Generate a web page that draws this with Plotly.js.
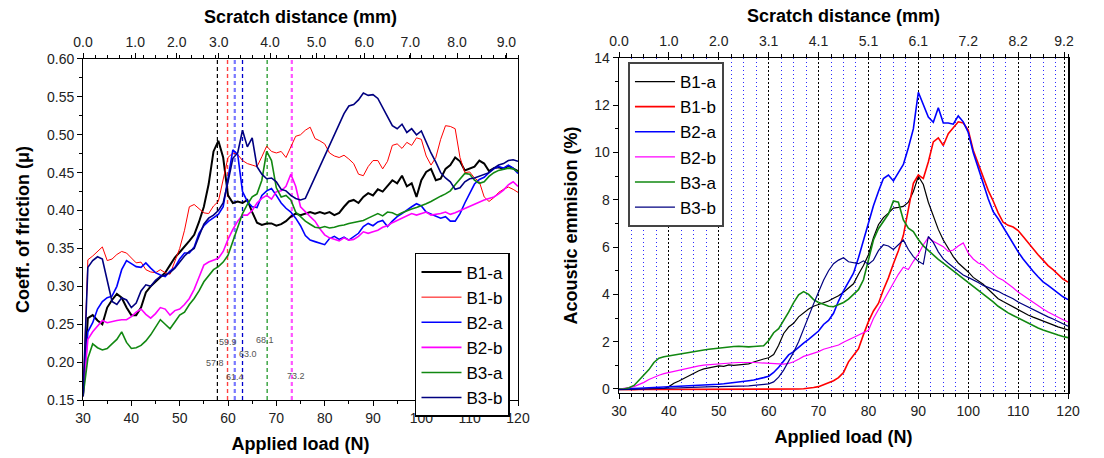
<!DOCTYPE html>
<html>
<head>
<meta charset="utf-8">
<script src="https://cdn.plot.ly/plotly-3.0.1.min.js"></script>
<style>html,body{margin:0;padding:0;background:#fff;}#chart{width:1104px;height:458px;}</style>
</head>
<body>
<div id="chart"></div>
<script>
// ---------- DATA ----------
const load = [30,31,32,33,34,35,36,37,38,39,40,41,42,43,44,45,46,47,48,49,50,51,52,53,54,55,56,57,58,59,60,61,62,63,64,65,66,67,68,69,70,71,72,73,74,75,76,77,78,79,80,81,82,83,84,85,86,87,88,89,90,91,92,93,94,95,96,97,98,99,100,101,102,103,104,105,106,107,108,109,110,111,112,113,114,115,116,117,118,119,120];
const seriesNames = ['B1-a','B1-b','B2-a','B2-b','B3-a','B3-b'];

// Coefficient of friction (left chart)
const fricB1a = [0.155,0.258,0.262,0.255,0.250,0.272,0.282,0.290,0.285,0.272,
 0.262,0.262,0.272,0.292,0.300,0.306,0.312,0.318,0.328,0.338,
 0.345,0.352,0.360,0.368,0.385,0.405,0.435,0.478,0.492,0.470,
 0.420,0.410,0.412,0.410,0.414,0.398,0.384,0.381,0.383,0.383,
 0.380,0.382,0.386,0.392,0.396,0.394,0.396,0.398,0.396,0.398,
 0.396,0.398,0.394,0.397,0.405,0.412,0.414,0.410,0.418,0.423,
 0.420,0.428,0.425,0.432,0.440,0.436,0.446,0.432,0.436,0.418,
 0.440,0.451,0.455,0.440,0.442,0.455,0.460,0.470,0.465,0.453,
 0.455,0.458,0.466,0.462,0.452,0.456,0.457,0.455,0.459,0.455,
 0.452];
const fricB1b = [0.155,0.335,0.340,0.346,0.352,0.334,0.336,0.342,0.346,0.344,
 0.337,0.331,0.332,0.322,0.319,0.318,0.322,0.318,0.316,0.334,
 0.350,0.374,0.405,0.408,0.402,0.397,0.396,0.406,0.412,0.440,
 0.470,0.476,0.474,0.466,0.462,0.460,0.458,0.471,0.485,0.478,
 0.476,0.478,0.470,0.484,0.498,0.500,0.506,0.510,0.495,0.492,
 0.488,0.476,0.472,0.470,0.473,0.468,0.462,0.448,0.446,0.458,
 0.466,0.466,0.455,0.465,0.486,0.488,0.482,0.490,0.486,0.496,
 0.494,0.472,0.460,0.470,0.494,0.512,0.511,0.508,0.470,0.450,
 0.451,0.443,0.438,0.418,0.412,0.417,0.424,0.428,0.431,0.428,
 0.424];
const fricB2a = [0.155,0.240,0.252,0.270,0.280,0.285,0.287,0.300,0.322,0.334,
 0.330,0.326,0.325,0.331,0.324,0.318,0.315,0.313,0.320,0.325,
 0.336,0.344,0.344,0.352,0.370,0.380,0.386,0.390,0.395,0.405,
 0.445,0.480,0.474,0.425,0.412,0.405,0.404,0.420,0.426,0.429,
 0.420,0.410,0.403,0.398,0.390,0.380,0.367,0.361,0.359,0.357,
 0.355,0.363,0.366,0.362,0.365,0.361,0.366,0.370,0.379,0.383,
 0.380,0.385,0.387,0.379,0.386,0.392,0.396,0.401,0.405,0.409,
 0.406,0.398,0.395,0.392,0.390,0.392,0.386,0.386,0.396,0.410,
 0.423,0.435,0.441,0.444,0.450,0.455,0.458,0.456,0.460,0.456,
 0.449];
const fricB2b = [0.155,0.230,0.240,0.248,0.255,0.252,0.254,0.255,0.256,0.256,
 0.260,0.266,0.270,0.263,0.258,0.264,0.272,0.270,0.262,0.268,
 0.270,0.276,0.284,0.296,0.312,0.328,0.332,0.334,0.337,0.346,
 0.362,0.375,0.386,0.394,0.394,0.400,0.410,0.416,0.420,0.415,
 0.425,0.426,0.432,0.448,0.432,0.405,0.398,0.392,0.386,0.376,
 0.368,0.364,0.362,0.360,0.364,0.361,0.362,0.366,0.372,0.370,
 0.372,0.374,0.378,0.380,0.384,0.387,0.390,0.393,0.396,0.394,
 0.396,0.398,0.394,0.395,0.396,0.398,0.395,0.397,0.400,0.403,
 0.405,0.408,0.412,0.414,0.416,0.418,0.422,0.427,0.434,0.438,
 0.432];
const fricB3a = [0.155,0.205,0.224,0.219,0.216,0.218,0.224,0.230,0.240,0.226,
 0.218,0.219,0.222,0.228,0.236,0.246,0.256,0.250,0.244,0.253,
 0.262,0.266,0.276,0.284,0.294,0.306,0.314,0.322,0.326,0.332,
 0.341,0.360,0.378,0.396,0.408,0.418,0.422,0.440,0.478,0.466,
 0.430,0.418,0.420,0.414,0.398,0.392,0.386,0.382,0.378,0.377,
 0.379,0.377,0.378,0.380,0.381,0.383,0.384,0.385,0.387,0.390,
 0.393,0.396,0.393,0.398,0.397,0.394,0.397,0.400,0.402,0.404,
 0.406,0.409,0.412,0.416,0.419,0.422,0.426,0.434,0.442,0.449,
 0.448,0.440,0.436,0.438,0.445,0.450,0.453,0.454,0.456,0.455,
 0.451];
const fricB3b = [0.155,0.325,0.334,0.339,0.336,0.310,0.280,0.276,0.285,0.282,
 0.272,0.278,0.294,0.302,0.300,0.308,0.313,0.315,0.318,0.324,
 0.332,0.340,0.346,0.350,0.366,0.382,0.390,0.394,0.400,0.410,
 0.438,0.469,0.476,0.506,0.484,0.496,0.458,0.448,0.442,0.443,
 0.438,0.428,0.426,0.420,0.416,0.414,0.416,0.430,0.445,0.458,
 0.472,0.485,0.500,0.514,0.528,0.538,0.540,0.546,0.555,0.552,
 0.553,0.548,0.535,0.524,0.512,0.508,0.514,0.503,0.508,0.500,
 0.505,0.490,0.476,0.464,0.450,0.443,0.438,0.428,0.430,0.438,
 0.442,0.443,0.445,0.448,0.450,0.456,0.460,0.462,0.466,0.467,
 0.465];

// Acoustic emission (right chart)
const aeB1a = [0.00,0.00,0.00,0.00,0.00,0.00,0.00,0.00,0.00,0.02,
 0.10,0.24,0.34,0.45,0.56,0.67,0.77,0.85,0.90,0.95,
 0.98,0.96,1.02,1.00,1.03,1.04,1.06,1.14,1.22,1.27,
 1.32,1.46,1.85,2.35,2.62,2.78,3.05,3.22,3.38,3.50,
 3.58,3.65,3.72,3.84,3.94,4.09,4.25,4.45,4.85,5.22,
 5.68,6.40,6.95,7.25,7.44,7.65,7.68,7.72,7.90,8.35,
 9.00,8.65,7.90,7.30,6.75,6.30,5.92,5.60,5.33,5.15,
 4.95,4.72,4.58,4.43,4.22,4.00,3.82,3.70,3.58,3.46,
 3.36,3.24,3.13,3.04,2.95,2.87,2.78,2.71,2.63,2.56,
 2.50];
const aeB1b = [-0.02,-0.03,-0.02,-0.03,-0.02,-0.02,-0.03,-0.02,-0.02,-0.03,
 -0.02,-0.02,-0.03,-0.02,-0.02,-0.02,-0.03,-0.02,-0.02,-0.02,
 -0.02,-0.03,-0.02,-0.02,-0.01,-0.02,-0.02,-0.01,-0.02,-0.01,
 -0.01,-0.01,0.00,-0.01,0.00,0.00,0.00,0.01,0.02,0.06,
 0.10,0.18,0.26,0.35,0.48,0.70,1.15,1.45,1.70,2.30,
 2.85,3.30,3.62,4.20,4.70,5.30,5.85,6.50,7.60,8.70,
 9.05,8.90,9.60,10.45,10.62,10.30,10.80,11.05,11.30,11.25,
 10.95,10.10,9.55,9.00,8.40,7.95,7.45,7.05,6.92,6.85,
 6.70,6.45,6.18,5.95,5.68,5.45,5.22,5.05,4.85,4.65,
 4.52];
const aeB2a = [0.00,0.00,0.01,0.02,0.03,0.04,0.05,0.05,0.06,0.07,
 0.08,0.09,0.10,0.11,0.12,0.13,0.14,0.15,0.16,0.18,
 0.20,0.22,0.24,0.26,0.29,0.32,0.35,0.38,0.42,0.48,
 0.54,0.70,0.92,1.20,1.44,1.58,1.78,1.94,2.10,2.26,
 2.45,2.73,2.90,3.20,3.72,4.15,4.52,4.90,5.55,6.30,
 7.10,7.75,8.35,8.90,9.05,8.80,9.15,9.50,10.20,11.00,
 12.55,12.00,11.50,11.28,11.90,11.25,11.25,11.20,11.55,11.30,
 10.85,10.00,9.30,8.70,8.05,7.50,7.20,6.85,6.45,6.12,
 5.80,5.50,5.22,4.98,4.75,4.53,4.38,4.22,4.05,3.90,
 3.78];
const aeB2b = [0.00,0.02,0.06,0.10,0.18,0.28,0.40,0.50,0.58,0.65,
 0.70,0.74,0.79,0.84,0.89,0.94,0.98,1.01,1.03,1.05,
 1.08,1.10,1.10,1.11,1.12,1.13,1.12,1.12,1.11,1.10,
 1.08,1.06,1.05,1.05,1.08,1.15,1.26,1.38,1.44,1.50,
 1.58,1.68,1.74,1.80,1.86,1.98,2.08,2.18,2.30,2.38,
 2.48,2.98,3.35,3.75,4.10,4.50,4.85,5.15,5.05,5.40,
 5.70,6.10,6.40,6.25,6.15,6.02,5.82,5.88,6.05,6.18,
 5.75,5.50,5.33,5.25,5.05,4.88,4.70,4.60,4.45,4.28,
 4.10,3.95,3.80,3.68,3.52,3.38,3.26,3.14,3.03,2.93,
 2.84];
const aeB3a = [0.00,0.00,0.05,0.15,0.37,0.58,0.82,1.12,1.30,1.36,
 1.40,1.43,1.47,1.51,1.55,1.58,1.61,1.65,1.68,1.71,
 1.73,1.76,1.77,1.80,1.81,1.79,1.78,1.80,1.80,1.83,
 2.05,2.38,2.55,2.88,3.25,3.65,3.98,4.12,4.00,3.78,
 3.66,3.58,3.50,3.48,3.56,3.66,3.80,4.02,4.20,4.62,
 5.40,6.30,6.78,7.10,7.40,7.95,7.90,7.15,6.80,6.66,
 6.32,6.05,5.85,5.64,5.48,5.32,5.16,5.00,4.82,4.66,
 4.49,4.33,4.16,4.00,3.84,3.68,3.50,3.34,3.22,3.11,
 3.00,2.89,2.79,2.68,2.58,2.50,2.42,2.35,2.28,2.22,
 2.17];
const aeB3b = [-0.03,-0.03,-0.02,-0.02,-0.01,0.00,0.00,0.01,0.02,0.03,
 0.04,0.05,0.06,0.07,0.08,0.09,0.09,0.10,0.10,0.10,
 0.10,0.10,0.11,0.11,0.12,0.12,0.13,0.15,0.17,0.19,
 0.22,0.30,0.50,0.80,1.15,1.55,2.00,2.55,3.10,3.60,
 4.10,4.60,5.00,5.30,5.45,5.55,5.38,5.35,5.30,5.42,
 5.28,5.45,5.85,6.10,6.05,5.90,6.10,6.30,5.90,5.60,
 5.40,5.28,6.45,6.20,5.80,5.50,5.32,5.15,4.95,4.82,
 4.72,4.62,4.50,4.38,4.30,4.24,4.13,4.02,3.92,3.82,
 3.68,3.57,3.46,3.38,3.26,3.15,3.05,2.96,2.86,2.76,
 2.66];

// Critical loads marked on the friction chart
const critLoads  = [57.8, 59.9, 61.4, 63.0, 68.1, 73.2];
const critLabels = ['57.8','59.9','61.4','63.0','68.1','73.2'];

// Scratch-distance (top axis) tick labels
const distTextL = ['0.0','1.0','2.0','3.0','4.0','5.0','6.0','7.0','8.0','9.0'];
const distTextR = ['0.0','1.0','2.0','3.1','4.1','5.1','6.1','7.2','8.2','9.2'];

// ---------- STYLE / LAYOUT (not data) ----------
const colors = ['#000000','#ff0000','#0000ff','#ff00ff','#118811','#000080'];
const widthsL = [2.0,1.0,1.6,1.6,1.6,1.6];
const widthsR = [1.2,1.6,1.6,1.2,1.6,1.2];
const critColors = ['#000000','#ff4040','#7878ff','#0000cc','#22992a','#ff55ff'];
const critWidths = [1.2,1.4,2.2,1.3,1.3,2.2];
const critLabelPos = [[57.3,0.199],[59.9,0.226],[61.4,0.180],[64.1,0.211],[67.6,0.229],[74.1,0.182]];
const distPosL = [30,40.8,49.4,58.1,68.7,78.3,88.2,97.7,107.4,117.6];
const distPosR = [30,40,50,60,70,80,90,100,110,119.2];

const fric = [fricB1a,fricB1b,fricB2a,fricB2b,fricB3a,fricB3b];
const ae = [aeB1a,aeB1b,aeB2a,aeB2b,aeB3a,aeB3b];
const noValues = load.map(()=>null);

const traces = [];
seriesNames.forEach((n,i)=>{
  traces.push({type:'scatter',mode:'lines',x:load,y:fric[i],name:n,xaxis:'x',yaxis:'y',
    legend:'legend',line:{color:colors[i],width:widthsL[i]}});
});
seriesNames.forEach((n,i)=>{
  traces.push({type:'scatter',mode:'lines',x:load,y:ae[i],name:n,xaxis:'x3',yaxis:'y2',
    legend:'legend2',line:{color:colors[i],width:widthsR[i]}});
});
// carriers so the top (scratch distance) axes are drawn; they hold no visible marks
traces.push({type:'scatter',mode:'lines',x:load,y:noValues,xaxis:'x2',yaxis:'y',showlegend:false,hoverinfo:'skip'});
traces.push({type:'scatter',mode:'lines',x:load,y:noValues,xaxis:'x4',yaxis:'y2',showlegend:false,hoverinfo:'skip'});

const FONT = 'Arial, "Liberation Sans", sans-serif';
const tickFont = {family:FONT,size:14,color:'#222'};
const titleFont = {family:FONT,size:18,color:'#000'};

const shapes = critLoads.map((v,i)=>({type:'line',xref:'x',yref:'y domain',x0:v,x1:v,y0:0,y1:1,
  layer:'below',line:{color:critColors[i],width:critWidths[i],dash:'4px,3px'}}));

const annotations = critLabels.map((t,i)=>({text:t,xref:'x',yref:'y',x:critLabelPos[i][0],y:critLabelPos[i][1],
  showarrow:false,font:{family:FONT,size:9,color:'#555'}}));

const layout = {
  width:1104,height:458,margin:{l:0,r:0,t:0,b:0},
  paper_bgcolor:'#fff',plot_bgcolor:'#fff',
  font:{family:FONT,size:14,color:'#000'},
  xaxis:{domain:[0.0752,0.4692],range:[30,120],anchor:'y',tick0:30,dtick:10,ticks:'outside',ticklen:5,
    tickcolor:'#000',showline:true,linecolor:'#000',linewidth:1,showgrid:false,zeroline:false,
    minor:{dtick:5,ticks:'outside',ticklen:3,tickcolor:'#000'},tickfont:tickFont,
    title:{text:'<b>Applied load (N)</b>',font:titleFont,standoff:12}},
  xaxis2:{overlaying:'x',side:'top',anchor:'y',range:[30,120],tickmode:'array',tickvals:distPosL,ticktext:distTextL,
    ticks:'outside',ticklen:5,tickcolor:'#000',showline:true,linecolor:'#000',linewidth:1,showgrid:false,zeroline:false,
    minor:{tickmode:'linear',tick0:30,dtick:2.5,ticks:'outside',ticklen:3,tickcolor:'#000'},
    tickfont:tickFont,title:{text:'<b>Scratch distance (mm)</b>',font:titleFont,standoff:6}},
  yaxis:{domain:[0.1266,0.8712],range:[0.15,0.60],anchor:'x',dtick:0.05,tick0:0.15,tickformat:'.2f',ticks:'outside',
    ticklen:5,tickcolor:'#000',showline:true,mirror:true,linecolor:'#000',linewidth:1,showgrid:false,zeroline:false,
    minor:{dtick:0.025,ticks:'outside',ticklen:3,tickcolor:'#000'},tickfont:tickFont,
    title:{text:'<b>Coeff. of friction (μ)</b>',font:titleFont,standoff:12}},
  xaxis3:{domain:[0.5607,0.9674],range:[30,120],anchor:'y2',tick0:30,dtick:10,ticks:'outside',ticklen:5,
    tickcolor:'#000',showline:true,linecolor:'#000',linewidth:1,showgrid:false,zeroline:false,
    minor:{dtick:2.5,ticks:'outside',ticklen:3,tickcolor:'#000',showgrid:true,gridcolor:'#2a2aff',griddash:'1px,3px',gridwidth:1},
    tickfont:tickFont,title:{text:'<b>Applied load (N)</b>',font:titleFont,standoff:12}},
  xaxis4:{overlaying:'x3',side:'top',anchor:'y2',range:[30,120],tickmode:'array',tickvals:distPosR,ticktext:distTextR,
    ticks:'outside',ticklen:5,tickcolor:'#000',showline:true,linecolor:'#000',linewidth:1,
    showgrid:true,gridcolor:'#000',griddash:'2px,2px',gridwidth:1,zeroline:false,
    minor:{tickmode:'linear',tick0:30,dtick:2.5,ticks:'outside',ticklen:3,tickcolor:'#000'},
    tickfont:tickFont,title:{text:'<b>Scratch distance (mm)</b>',font:titleFont,standoff:6}},
  yaxis2:{domain:[0.1419,0.8734],range:[-0.17,14],anchor:'x3',dtick:2,tick0:0,ticks:'outside',ticklen:5,
    tickcolor:'#000',showline:true,mirror:true,linecolor:'#000',linewidth:1.5,showgrid:false,zeroline:false,
    minor:{dtick:1,ticks:'outside',ticklen:3,tickcolor:'#000'},tickfont:tickFont,
    title:{text:'<b>Acoustic emmision (%)</b>',font:titleFont,standoff:12}},
  legend:{x:0.3759,y:0.4476,xanchor:'left',yanchor:'top',bgcolor:'#fff',bordercolor:'#000',borderwidth:1.5,
    font:{family:FONT,size:17,color:'#000'},itemwidth:40,tracegroupgap:0},
  legend2:{x:0.5688,y:0.8646,xanchor:'left',yanchor:'top',bgcolor:'#fff',bordercolor:'#444',borderwidth:2,
    font:{family:FONT,size:17,color:'#000'},itemwidth:40,tracegroupgap:0},
  shapes:shapes,
  annotations:annotations
};

Plotly.newPlot('chart',traces,layout,{displayModeBar:false,staticPlot:true});
</script>
</body>
</html>
